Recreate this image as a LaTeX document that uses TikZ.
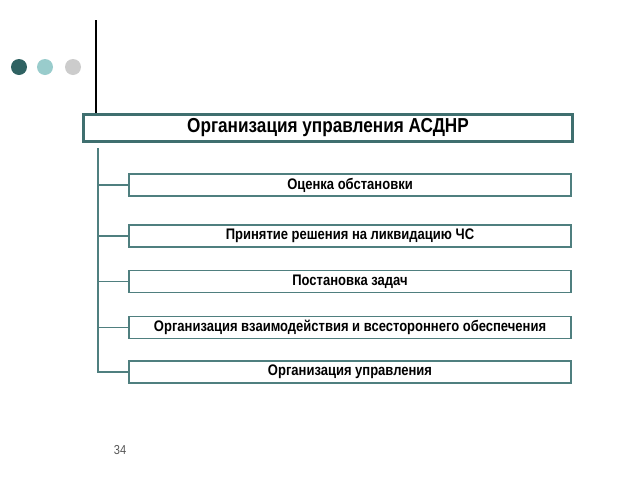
\documentclass[tikz,border=0pt]{standalone}
\usepackage{fontspec}
\setmainfont{Liberation Sans}[FakeStretch=0.85]
\definecolor{tealdark}{HTML}{2F6262}
\definecolor{teallight}{HTML}{99CCCC}
\definecolor{dotgray}{HTML}{CCCCCC}
\definecolor{boxline}{HTML}{3F6F6F}
\definecolor{treeline}{HTML}{4F7F7F}
\definecolor{pagenum}{HTML}{555555}
\tikzset{
  dot/.style={circle, inner sep=0pt, minimum size=16pt},
  titlebox/.style={draw=boxline, line width=3.2pt, fill=white, minimum width=489pt, minimum height=27pt, inner sep=0pt, font=\fontsize{20.2}{22}\selectfont\bfseries},
  itembox/.style={draw=treeline, line width=1.8pt, fill=white, minimum width=442pt, minimum height=22pt, inner sep=0pt, font=\fontsize{15.3}{17}\selectfont\bfseries},
  tree/.style={draw=treeline, line width=1.8pt},
}
\begin{document}
\begin{tikzpicture}[x=1pt,y=-1pt]
\useasboundingbox (0,0) rectangle (640,480);
\node[dot, fill=tealdark] (d1) at (19,67) {};
\node[dot, fill=teallight] (d2) at (45,67) {};
\node[dot, fill=dotgray] (d3) at (73,67) {};
\node[titlebox] (title) at (328,128) {Организация управления АСДНР};
\coordinate (vtop) at (96,20);
\draw[black, line width=2.5pt] (vtop) -- (vtop |- title.north);
\node[itembox] (b1) at (350,185) {Оценка обстановки};
\node[itembox] (b2) at (350,236) {Принятие решения на ликвидацию ЧС};
\node[itembox] (b3) at (350,281.5) {Постановка задач};
\node[itembox] (b4) at (350,327.5) {Организация взаимодействия и всестороннего обеспечения};
\node[itembox] (b5) at (350,372) {Организация управления};
\coordinate (tt) at (98,148);
\draw[tree] (tt) |- (b5.west);
\foreach \b in {b1,b2,b3,b4} {\draw[tree] (tt |- \b.west) -- (\b.west);}
\node[text=pagenum, font=\fontsize{13}{15}\selectfont] (pg) at (120,450) {34};
\end{tikzpicture}
\end{document}
